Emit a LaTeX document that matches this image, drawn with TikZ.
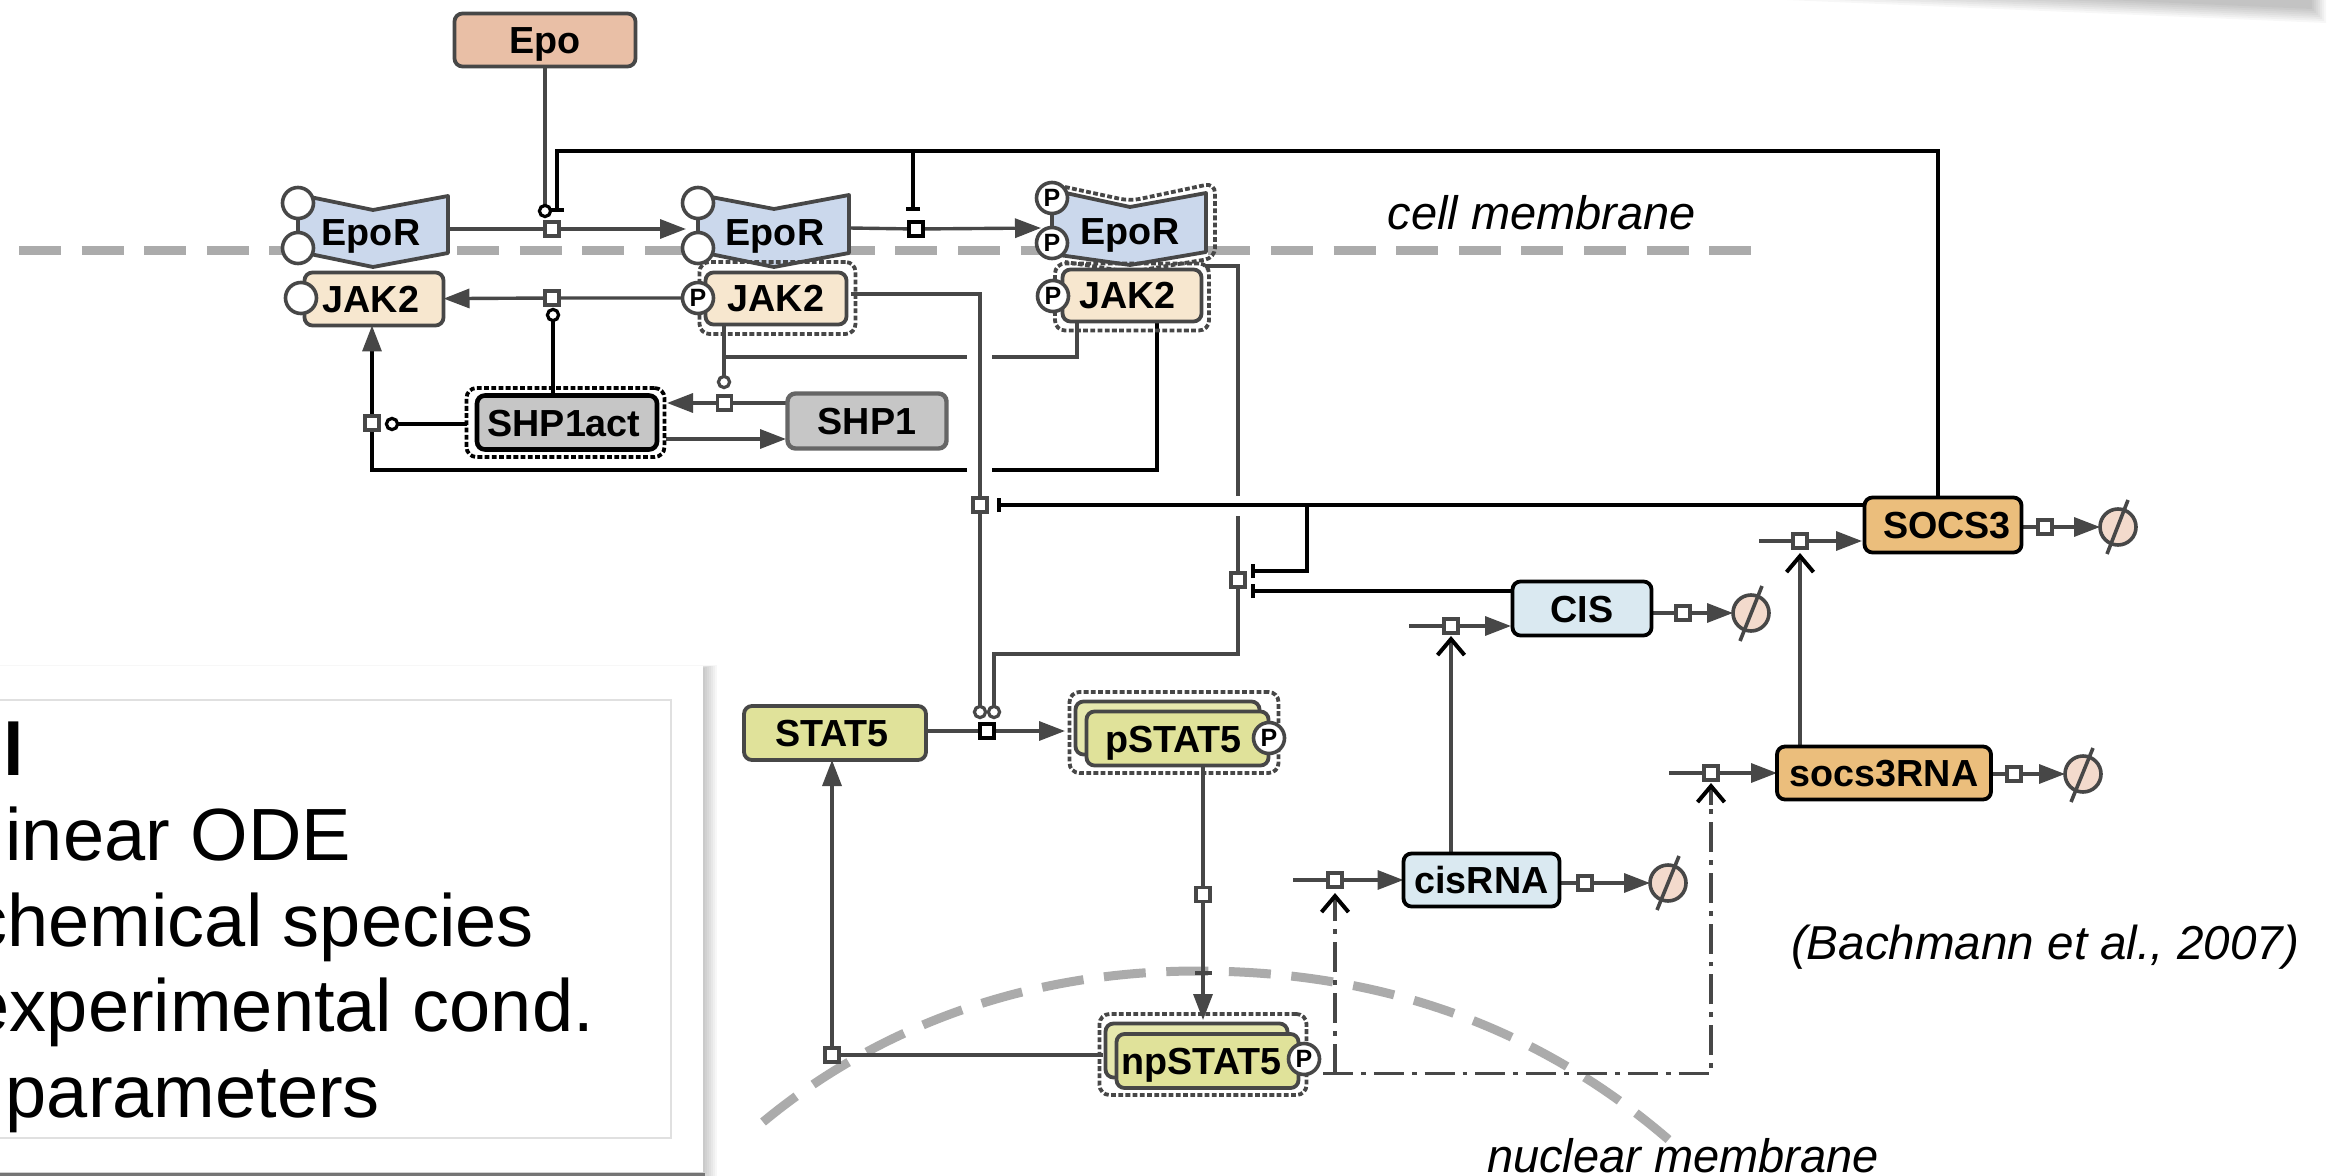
\documentclass[tikz,border=0pt]{standalone}
\usepackage{fontspec}
\setmainfont{Liberation Sans}
\usetikzlibrary{arrows.meta,backgrounds}
\pgfdeclarelayer{base}
\pgfsetlayers{base,background,main}
\definecolor{lineC}{HTML}{474747}
\definecolor{memC}{HTML}{ABABAB}
\definecolor{epoC}{HTML}{E9BFA6}
\definecolor{recC}{HTML}{CBD8EC}
\definecolor{jakC}{HTML}{F7E7CF}
\definecolor{shpC}{HTML}{C6C6C6}
\definecolor{statC}{HTML}{E0E29A}
\definecolor{cisC}{HTML}{DAE9F1}
\definecolor{socC}{HTML}{EBBE7C}
\definecolor{phiC}{HTML}{F3DACC}
\newcommand{\spfont}{\fontsize{18.85}{20}\selectfont\bfseries}
\tikzset{
  splabel/.style={font=\spfont,text=black,text height=13.5pt,text depth=0pt},
  spbox/.style={draw=lineC,line width=1.9pt,rounded corners=4pt,inner sep=0pt,outer sep=0pt,splabel},
  blackbox/.style={spbox,draw=black},
  halo/.style={draw=lineC,line width=1.9pt,dash pattern=on 2.4pt off 1.2pt,rounded corners=5pt,inner sep=0pt,outer sep=0pt},
  haloB/.style={halo,draw=black},
  site/.style={circle,draw=lineC,line width=1.8pt,fill=white,inner sep=0pt,outer sep=0pt,minimum size=15.5pt,font=\fontsize{12.5}{13}\selectfont\bfseries},
  procsq/.style={rectangle,draw=lineC,line width=1.7pt,fill=white,inner sep=0pt,outer sep=0pt,minimum size=7.1pt},
  procB/.style={procsq,draw=black},
  modc/.style={circle,draw=lineC,line width=1.6pt,fill=white,inner sep=0pt,outer sep=0pt,minimum size=5.6pt},
  modB/.style={modc,draw=black},
  phinode/.style={circle,draw=lineC,line width=1.8pt,fill=phiC,inner sep=0pt,outer sep=0pt,minimum size=18pt},
  conn/.style={draw=lineC,line width=1.7pt},
  connB/.style={draw=black,line width=1.7pt},
  flow/.style={conn,-{Triangle[length=13pt,width=9.5pt,color=lineC]}},
  inhib/.style={connB,-{Bar[width=7pt,line width=2pt]}},
  stim/.style={conn,-{Straight Barb[length=8pt,width=13.5pt,line width=2pt,color=black]}},
  dashdot/.style={draw=lineC,line width=1.6pt,dash pattern=on 15pt off 4pt on 2.4pt off 4pt},
  membrane/.style={draw=memC,line width=4.5pt,dash pattern=on 21pt off 10.3pt},
  slash/.style={draw=lineC,line width=1.8pt},
  caption/.style={inner sep=0pt,outer sep=0pt,font=\fontsize{23.5}{26}\selectfont\itshape,text=black},
  paneltext/.style={inner sep=0pt,outer sep=0pt,anchor=base east,font=\fontsize{37}{40}\selectfont,text=black},
}
\begin{document}
\begin{tikzpicture}[x=0.5pt,y=-0.5pt]
\useasboundingbox (0,0) rectangle (2327,1176);
\begin{pgfonlayer}{base}
\fill[white] (0,0) rectangle (2327,1176);
\clip (0,0) rectangle (2327,1176);
% top-right drop shadow
\foreach \d in {0,2,...,14}{
  \fill[black,opacity=.032] (1740,-5) -- (2326-\d,-5) -- (2326-\d,23-\d) -- (1740,-9-\d+7) -- cycle;
}
% panel with shadow
\foreach \d in {0,2,...,14}{
  \fill[black,opacity=.03] (-20,668-0.2*\d) rectangle (703+\d,1170+\d);
}
\fill[white] (-20,666) rectangle (703,1172);
\fill[black,opacity=.45] (-20,1173) rectangle (705,1176);
\draw[black!12,line width=1pt] (-20,700) rectangle (671,1138);
\end{pgfonlayer}
\node[paneltext,font=\fontsize{37}{40}\selectfont\bfseries] (ptitle) at (24,775) {l};
\node[paneltext] (pa) at (351,860) {inear ODE};
\node[paneltext] (pb) at (534,946) {chemical species};
\node[paneltext] (pc) at (594,1031.5) {experimental cond.};
\node[paneltext] (pd) at (380,1117) {parameters};

% ===== species =====
\node[spbox,fill=epoC,minimum width=90.5pt,minimum height=26.5pt] (epo) at (545,40) {Epo};

% EpoR 1
\draw[draw=lineC,line width=1.9pt,fill=recC,line join=round] (298,194.5) -- (373,210) -- (448,196) -- (448,253) -- (373,267) -- (298,251.5) -- cycle;
\node[site] (a1) at (298,203) {};
\node[site] (a2) at (298,248) {};
\node[inner sep=0pt,splabel] (epor1) at (371,232) {EpoR};
% JAK2 1
\node[spbox,fill=jakC,minimum width=69.5pt,minimum height=26.5pt] (jak1) at (374,299) {JAK2\kern3pt};
\node[site] (b1) at (301,298) {};

% EpoR 2
\draw[draw=lineC,line width=1.9pt,fill=recC,line join=round] (698,194.5) -- (774,209) -- (849,195) -- (849,253) -- (774,267) -- (698,251.5) -- cycle;
\node[site] (a3) at (698,203) {};
\node[site] (a4) at (698,248) {};
\node[inner sep=0pt,splabel] (epor2) at (775,232) {EpoR};
% JAK2 2
\node[halo,minimum width=78pt,minimum height=36pt] (haloJ2) at (777.5,298) {};
\node[spbox,fill=jakC,minimum width=70.5pt,minimum height=26pt] (jak2) at (776,298.5) {JAK2};
\node[site] (pJ2) at (698,298) {P};

% EpoR 3
\draw[halo] (1065,187) -- (1130,201) -- (1215,183) -- (1215,258) -- (1130,272) -- (1065,262);
\draw[draw=lineC,line width=1.9pt,fill=recC,line join=round] (1052,190) -- (1130,207) -- (1206,193) -- (1206,252) -- (1130,265) -- (1052,254) -- cycle;
\node[site] (p1) at (1052,198) {P};
\node[site] (p2) at (1052,243) {P};
\node[inner sep=0pt,splabel] (epor3) at (1130,231) {EpoR};
% JAK2 3
\node[halo,minimum width=77pt,minimum height=33.5pt] (haloJ3) at (1132,297) {};
\node[spbox,fill=jakC,minimum width=69.5pt,minimum height=26pt] (jak3) at (1132,295.5) {JAK2\kern4.5pt};
\node[site] (pJ3) at (1053,296) {P};

% SHP1act / SHP1
\node[haloB,minimum width=99pt,minimum height=34.5pt] (haloS) at (565.5,422.5) {};
\node[blackbox,fill=shpC,line width=2.3pt,minimum width=90pt,minimum height=27pt] (shpa) at (567,422.5) {SHP1act\kern3pt};
\node[spbox,draw=black!60,line width=2.2pt,fill=shpC,minimum width=79.5pt,minimum height=27.5pt] (shp) at (867,421) {SHP1};

% STAT5 family
\node[spbox,fill=statC,minimum width=91pt,minimum height=27pt] (stat5) at (835,733) {STAT5\kern3pt};
\node[halo,minimum width=104.5pt,minimum height=40.5pt] (haloP) at (1174,732.5) {};
\node[spbox,fill=statC!80!white,minimum width=92pt,minimum height=26.5pt] (pback) at (1167.5,728) {};
\node[spbox,fill=statC,minimum width=91pt,minimum height=27pt] (pstat) at (1177.5,738.5) {pSTAT5\kern4pt};
\node[site] (pP) at (1269,738) {P};
\node[halo,minimum width=103.5pt,minimum height=40.5pt] (haloN) at (1203,1054.5) {};
\node[spbox,fill=statC!80!white,minimum width=91pt,minimum height=27pt] (nback) at (1196.5,1050.5) {};
\node[spbox,fill=statC,minimum width=91pt,minimum height=27pt] (npstat) at (1207.5,1061) {npSTAT5\kern6pt};
\node[site] (nP) at (1304,1059) {P};

% RNA / proteins
\node[blackbox,fill=cisC,minimum width=69.5pt,minimum height=27pt] (cis) at (1582,608.5) {CIS};
\node[blackbox,fill=socC,minimum width=78.5pt,minimum height=27.5pt] (socs) at (1943,525) {\kern4pt SOCS3};
\node[blackbox,fill=socC,minimum width=107pt,minimum height=26.5pt] (srna) at (1884,773) {socs3RNA};
\node[blackbox,fill=cisC,minimum width=78pt,minimum height=26.5pt] (crna) at (1481.5,880) {cisRNA};

% degradation symbols
\node[phinode] (phiCIS) at (1751,613) {};
\draw[slash] (phiCIS.center) ++(11,-27) -- ++(-22,55);
\node[phinode] (phiSOC) at (2118,527) {};
\draw[slash] (phiSOC.center) ++(10,-27) -- ++(-21,54);
\node[phinode] (phiSR) at (2083,774) {};
\draw[slash] (phiSR.center) ++(10,-26) -- ++(-22,54);
\node[phinode] (phiCR) at (1668,883) {};
\draw[slash] (phiCR.center) ++(11,-27) -- ++(-22,54);

% process squares
\node[procsq] (sqA) at (552,229) {};
\node[procB] (sqB0) at (916,229) {};
\node[procsq] (sqB) at (552,298) {};
\node[procsq] (sqC) at (724.5,403) {};
\node[procsq] (sqD) at (372,423) {};
\node[procsq] (sqE) at (980,505) {};
\node[procsq] (sqG) at (1238,580) {};
\node[procB] (sqF) at (987,731) {};
\node[procsq] (sqH) at (1203,894.5) {};
\node[procsq] (sqI) at (832,1055) {};
\node[procsq] (sqJ) at (1451,626) {};
\node[procsq] (sqK) at (1800,541) {};
\node[procsq] (sqL) at (1711,773) {};
\node[procsq] (sqM) at (1335,880) {};
\node[procsq] (sqN) at (1683,613) {};
\node[procsq] (sqO) at (2045,527) {};
\node[procsq] (sqP) at (2014,774) {};
\node[procsq] (sqQ) at (1585,883) {};

% modifier circles
\node[modB] (mEpo) at (545,211) {};
\node[modB] (mSh1) at (553,315) {};
\node[modc] (mJ2) at (724,382) {};
\node[modB] (mSh2) at (392,424) {};
\node[modc] (mS1) at (980,712) {};
\node[modc] (mS2) at (994,712) {};

% named free ends
\coordinate (e1r) at (448,229);
\coordinate (e2in) at (686,229);
\coordinate (e2r) at (849,228);
\coordinate (e3in) at (1041,228);
\coordinate (s3t) at (1938,496);
\coordinate (topR) at (1938,151);
\coordinate (topL) at (557,151);
\coordinate (tb1) at (557,212);
\coordinate (topM) at (913,151);
\coordinate (tb2) at (913,211);
\coordinate (c1) at (724,357);
\coordinate (c1L) at (967,357);
\coordinate (c1R) at (992,357);
\coordinate (c1E) at (1077,357);
\coordinate (j3a) at (1077,323);
\coordinate (sh1a) at (786,403);
\coordinate (sha1) at (667,403);
\coordinate (sha2) at (666,439);
\coordinate (sh1b) at (786,439);
\coordinate (j3b) at (1157,323);
\coordinate (l1) at (1157,470);
\coordinate (l2) at (992,470);
\coordinate (l3) at (967,470);
\coordinate (l4) at (372,470);
\coordinate (j2r) at (851,294);
\coordinate (j2c) at (980,294);
\coordinate (e3r) at (1205,266);
\coordinate (e3c) at (1238,266);
\coordinate (e3g) at (1238,496);
\coordinate (e3h) at (1238,516);
\coordinate (e3d) at (1238,654);
\coordinate (e3e) at (994,654);
\coordinate (s3l) at (1863,505);
\coordinate (s3b) at (1307,505);
\coordinate (t3) at (997,505);
\coordinate (s3c) at (1307,571);
\coordinate (t4) at (1251,571);
\coordinate (cisl) at (1511,591);
\coordinate (t5) at (1251,591);
\coordinate (st1) at (928,731);
\coordinate (st2) at (1065,731);
\coordinate (npin) at (1203,1020);
\coordinate (npb) at (1103,1055);
\coordinate (ddS) at (1323,1073.5);
\coordinate (ddC) at (1711,1073.5);
\coordinate (ddM) at (1335,1073.5);
\coordinate (cisin) at (1409,626);
\coordinate (cisti) at (1511,626);
\coordinate (socin) at (1759,541);
\coordinate (socti) at (1862,541);
\coordinate (srin) at (1669,773);
\coordinate (crin) at (1293,880);
\coordinate (mcell1) at (19,251);
\coordinate (mcell2) at (1751,251);
\coordinate (tickL) at (1195,973);
\coordinate (tickR) at (1212,973);
\coordinate (caretA0) at (1335,915);
\coordinate (caretA) at (1335,893);
\coordinate (caretB0) at (1711,805);
\coordinate (caretB) at (1711,783);
\coordinate (caretC) at (1451,636);
\coordinate (caretD) at (1800,553);
\coordinate (ddC2) at (1711,805);
\coordinate (ddM2) at (1335,915);

\begin{scope}[on background layer]
  % membranes
  \draw[membrane] (mcell1) -- (mcell2);
  \draw[membrane] (763,1122) .. controls (880,1025) and (1030,971) .. (1198,971)
        .. controls (1370,971) and (1530,1020) .. (1669,1140);
  % Epo
  \draw[conn] (epo) -- (mEpo);
  % EpoR steps
  \draw[flow] (e1r) -- (sqA) -- (e2in);
  \draw[flow] (e2r) -- (sqB0) -- (e3in);
  % SOCS3 feedback on receptor
  \draw[inhib] (s3t) -- (topR) -- (topL) -- (tb1);
  \draw[inhib] (topM) -- (tb2);
  % JAK2 reactions
  \draw[flow] (pJ2) -- (sqB) -- (jak1);
  \draw[connB] (mSh1 |- shpa.north) -- (mSh1);
  \draw[conn] (mJ2 |- jak2.south) -- (mJ2);
  \draw[conn] (c1) -- (c1L);
  \draw[conn] (c1R) -- (c1E) -- (j3a);
  \draw[flow] (sh1a) -- (sqC) -- (sha1);
  \draw[flow] (sha2) -- (sh1b);
  \draw[connB] (j3b) -- (l1) -- (l2);
  \draw[connB,-{Triangle[length=13pt,width=9.5pt,color=lineC]}] (l3) -- (l4) -- (sqD) -- (sqD |- jak1.south);
  \draw[connB] (haloS.west |- mSh2) -- (mSh2);
  % activation of STAT5
  \draw[conn] (j2r) -- (j2c) -- (sqE) -- (mS1);
  \draw[conn] (e3r) -- (e3c) -- (e3g);
  \draw[conn] (e3h) -- (sqG) -- (e3d) -- (e3e) -- (mS2);
  % SOCS3 / CIS inhibition
  \draw[inhib] (s3l) -- (t3);
  \draw[inhib] (s3b) -- (s3c) -- (t4);
  \draw[inhib] (cisl) -- (t5);
  % STAT5 cycle
  \draw[flow] (st1) -- (sqF) -- (st2);
  \draw[flow] (sqH |- pstat.south) -- (sqH) -- (npin);
  \draw[draw=lineC,line width=2pt] (tickL) -- (tickR);
  \draw[conn] (npb) -- (sqI);
  \draw[flow] (sqI) -- (sqI |- stat5.south);
  % transcription
  \draw[dashdot] (ddS) -- (ddC) -- (ddC2);
  \draw[dashdot] (ddM) -- (ddM2);
  \draw[stim] (caretA0) -- (caretA);
  \draw[stim] (caretB0) -- (caretB);
  \draw[stim] (sqJ |- crna.north) -- (caretC);
  \draw[stim] (sqK |- srna.north) -- (caretD);
  % synthesis
  \draw[flow] (cisin) -- (sqJ) -- (cisti);
  \draw[flow] (socin) -- (sqK) -- (socti);
  \draw[flow] (srin) -- (sqL) -- (srna);
  \draw[flow] (crin) -- (sqM) -- (crna);
  % degradation
  \draw[flow] (cis.east |- sqN) -- (sqN) -- (phiCIS);
  \draw[flow] (socs.east |- sqO) -- (sqO) -- (phiSOC);
  \draw[flow] (srna.east |- sqP) -- (sqP) -- (phiSR);
  \draw[flow] (crna.east |- sqQ) -- (sqQ) -- (phiCR);
  % connecting bars of receptor sites
  \draw[conn] (a1) -- (a2);
  \draw[conn] (a3) -- (a4);
  \draw[conn] (p1) -- (p2);
\end{scope}

% captions
\node[caption] (cm) at (1542,213) {cell membrane};
\node[caption,anchor=base] (nm) at (1683,1172) {nuclear membrane};
\node[caption,font=\fontsize{23.8}{26}\selectfont\itshape] (cite) at (2045,947) {(Bachmann et al., 2007)};
\end{tikzpicture}
\end{document}
